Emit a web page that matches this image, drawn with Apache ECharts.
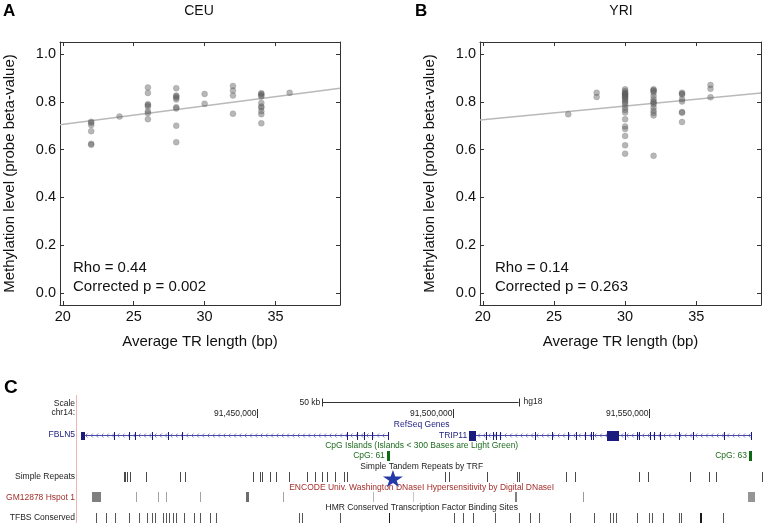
<!DOCTYPE html>
<html><head><meta charset="utf-8">
<script src="https://cdn.jsdelivr.net/npm/echarts@6/dist/echarts.min.js"></script>
<style>html,body{margin:0;padding:0;background:#fff}#c{width:764px;height:523px}</style>
</head><body><div id="c"></div>
<script>
const FONT = '"Liberation Sans", Arial, Helvetica, sans-serif';

// ---------- Panel A (CEU) ----------
const ceuLengths = [22, 24, 26, 28, 30, 32, 34, 36];
const ceuMethylation = [
  [0.716, 0.712, 0.703, 0.677, 0.624, 0.620],
  [0.738],
  [0.860, 0.837, 0.790, 0.786, 0.780, 0.760, 0.752, 0.727],
  [0.857, 0.826, 0.822, 0.817, 0.810, 0.777, 0.772, 0.700, 0.631],
  [0.833, 0.792],
  [0.866, 0.847, 0.826, 0.750],
  [0.836, 0.832, 0.827, 0.822, 0.795, 0.780, 0.775, 0.760, 0.748, 0.710],
  [0.838]
];
const ceuFit = [[19.8, 0.704], [39.55, 0.857]];
const ceuStats = ['Rho = 0.44', 'Corrected p = 0.002'];

// ---------- Panel B (YRI) ----------
const yriLengths = [26, 28, 30, 32, 34, 36];
const yriMethylation = [
  [0.748],
  [0.838, 0.820],
  [0.852, 0.845, 0.838, 0.835, 0.832, 0.828, 0.824, 0.820, 0.817, 0.811, 0.804, 0.797, 0.790, 0.776, 0.766, 0.755, 0.727, 0.697, 0.686, 0.657, 0.618, 0.583],
  [0.852, 0.848, 0.845, 0.838, 0.824, 0.811, 0.800, 0.797, 0.790, 0.776, 0.762, 0.753, 0.743, 0.574],
  [0.838, 0.834, 0.830, 0.811, 0.801, 0.757, 0.754, 0.715],
  [0.870, 0.854, 0.819]
];
const yriFit = [[19.8, 0.724], [39.55, 0.837]];
const yriStats = ['Rho = 0.14', 'Corrected p = 0.263'];

const xTicks = [20, 25, 30, 35];
const yTicks = [0, 0.2, 0.4, 0.6, 0.8, 1.0];

// ---------- Panel C (genome browser, hg18 chr14, bp) ----------
const chromTicks = [91450000, 91500000, 91550000];
const scaleBar = [91466700, 91516700];
const fbln5 = { name: 'FBLN5', start: 91405500, end: 91483600 };
const fbln5Exons = [[91405500, 91406500], [91413800], [91417600], [91419100], [91423500], [91427500], [91431200],
  [91473200], [91475700], [91477400], [91479500], [91483600]];
const trip11 = { name: 'TRIP11', start: 91504100, end: 91575900 };
const trip11Exons = [[91504100, 91505800], [91508500], [91510200], [91511200], [91512100], [91520900], [91525400],
  [91529300], [91531400], [91533700], [91535200], [91535700], [91539400, 91542500], [91543800], [91547000],
  [91547600], [91550400], [91551400], [91552900], [91557800], [91561300], [91569200], [91575900]];
const cpgIslands = [[91483400, 91484200], [91575600, 91576400]];
const cpgNames = ['CpG: 61', 'CpG: 63'];
const simpleRepeats = [91416300, 91416700, 91417100, 91417900, 91422000, 91430700, 91431800, 91449200, 91451000,
  91451500, 91453400, 91455100, 91458300, 91463000, 91465100, 91466800, 91468100, 91470100, 91472300, 91473200,
  91498200, 91499000, 91508800, 91516400, 91517000, 91529000, 91531100, 91547600, 91549700, 91560600, 91565200,
  91567000, 91578800];
const hspotStarts = [91408300, 91419400, 91424900, 91427100, 91435600, 91447400, 91456800, 91479700, 91489900, 91515900, 91533200, 91575200];
const hspotEnds   = [91410500, 91419400, 91424900, 91427100, 91435600, 91448100, 91456800, 91479700, 91489900, 91516500, 91533200, 91577100];
const hspotScores = [600, 400, 400, 400, 400, 700, 400, 300, 200, 600, 450, 480];
const tfbsSites = [91409100, 91411800, 91414000, 91417700, 91420200, 91422300, 91423500, 91424200, 91426200,
  91427100, 91427900, 91428800, 91429600, 91431700, 91434200, 91435800, 91438200, 91439700, 91461000, 91461700,
  91471300, 91483800, 91500300, 91502700, 91505300, 91510800, 91516900, 91519700, 91522000, 91530000, 91536000,
  91540200, 91540800, 91541600, 91547000, 91550100, 91550800, 91553700, 91557700, 91558300, 91563000, 91563300,
  91569000];
const tfbsStrong = [91483800, 91563000, 91563300];
const starSite = [91484700];

// ---------- layout / style ----------
const ROW = { scale: 6.7, coords: 18.5, gene: 39.7, cpg: 60.5, repeats: 81.5, hspot: 101.5, tfbs: 122.5 };
const NAVY = '#1b1b7e', GREEN = '#1f6b1f', RED = '#a3302c';

function flatten(lengths, vals) {
  const out = [];
  lengths.forEach((x, i) => vals[i].forEach(v => out.push([x, v])));
  return out;
}

const frameLine = { show: true, onZero: false, lineStyle: { color: '#333', width: 1 } };
function xAxes(gi) {
  return [
    { gridIndex: gi, type: 'value', min: 19.8, max: 39.55, position: 'bottom', axisLine: frameLine,
      axisTick: { show: true, inside: true, length: 4, customValues: xTicks, lineStyle: { color: '#333' } },
      axisLabel: { customValues: xTicks, fontSize: 14.5, color: '#111', margin: 4, fontFamily: FONT },
      splitLine: { show: false },
      name: 'Average TR length (bp)', nameLocation: 'middle', nameGap: 29,
      nameTextStyle: { fontSize: 15, color: '#111', fontFamily: FONT } },
    { gridIndex: gi, type: 'value', min: 19.8, max: 39.55, position: 'top', axisLine: frameLine,
      axisTick: { show: true, inside: true, length: 4, customValues: xTicks, lineStyle: { color: '#333' } },
      axisLabel: { show: false }, splitLine: { show: false } }
  ];
}
function yAxes(gi) {
  return [
    { gridIndex: gi, type: 'value', min: -0.05, max: 1.05, position: 'left', axisLine: frameLine,
      axisTick: { show: true, inside: true, length: 4, customValues: yTicks, lineStyle: { color: '#333' } },
      axisLabel: { customValues: yTicks, fontSize: 14.5, color: '#111', margin: 4, fontFamily: FONT,
        formatter: v => Number(v).toFixed(1) },
      splitLine: { show: false },
      name: 'Methylation level (probe beta-value)', nameLocation: 'middle', nameGap: 43,
      nameTextStyle: { fontSize: 15, color: '#111', fontFamily: FONT } },
    { gridIndex: gi, type: 'value', min: -0.05, max: 1.05, position: 'right', axisLine: frameLine,
      axisTick: { show: true, inside: true, length: 4, customValues: yTicks, lineStyle: { color: '#333' } },
      axisLabel: { show: false }, splitLine: { show: false } }
  ];
}

const dotStyle = { color: 'rgba(95,95,95,0.45)', borderColor: 'rgba(70,70,70,0.3)', borderWidth: 0.5, opacity: 1 };
const fitStyle = { color: '#b9b9b9', width: 1.5 };

function tickRender(row, h, colorFn) {
  return function (params, api) {
    const p1 = api.coord([api.value(0), row]);
    const p2 = api.coord([api.value(1), row]);
    const w = Math.max(1, Math.round(p2[0] - p1[0]));
    return { type: 'rect', shape: { x: Math.floor(p1[0]), y: Math.round(p1[1] - h / 2), width: w, height: h },
      style: { fill: colorFn(api.value(2), api.value(0)) } };
  };
}

function geneRender(gene, exons, showLabel) {
  return function (params, api) {
    const a = api.coord([gene.start, ROW.gene]);
    const b = api.coord([gene.end, ROW.gene]);
    const y = Math.round(a[1]) + 0.5;
    const ch = [];
    ch.push({ type: 'line', shape: { x1: a[0], y1: y, x2: b[0], y2: y }, style: { stroke: '#4646a8', lineWidth: 1 } });
    for (let x = a[0] + 4; x < b[0] - 2; x += 5.3) {
      ch.push({ type: 'polyline', shape: { points: [[x + 1.6, y - 2], [x - 0.4, y], [x + 1.6, y + 2]] },
        style: { stroke: '#5a5ab8', lineWidth: 0.8, fill: null } });
    }
    exons.forEach(e => {
      const s = api.coord([e[0], ROW.gene])[0];
      const t = api.coord([e.length > 1 ? e[1] : e[0], ROW.gene])[0];
      const w = Math.max(1, Math.round(t - s));
      const h = w > 6 ? 10 : 8;
      ch.push({ type: 'rect', shape: { x: Math.floor(s), y: Math.round(y - h / 2), width: w, height: h }, style: { fill: NAVY } });
    });
    if (showLabel) {
      ch.push({ type: 'text', style: { text: gene.name, x: a[0] - 2, y: y, textAlign: 'right', textVerticalAlign: 'middle',
        fontSize: 8.5, fontFamily: FONT, fill: NAVY } });
    }
    return { type: 'group', children: ch };
  };
}

const series = [
  { type: 'scatter', xAxisIndex: 0, yAxisIndex: 0, data: flatten(ceuLengths, ceuMethylation), symbolSize: 6, itemStyle: dotStyle, silent: true, z: 3 },
  { type: 'line', xAxisIndex: 0, yAxisIndex: 0, data: ceuFit, showSymbol: false, lineStyle: fitStyle, silent: true, z: 2 },
  { type: 'scatter', xAxisIndex: 2, yAxisIndex: 2, data: flatten(yriLengths, yriMethylation), symbolSize: 6, itemStyle: dotStyle, silent: true, z: 3 },
  { type: 'line', xAxisIndex: 2, yAxisIndex: 2, data: yriFit, showSymbol: false, lineStyle: fitStyle, silent: true, z: 2 },
  // scale bar
  { type: 'custom', xAxisIndex: 4, yAxisIndex: 4, silent: true, data: [scaleBar],
    renderItem: (p, api) => {
      const a = api.coord([api.value(0), ROW.scale]), b = api.coord([api.value(1), ROW.scale]);
      const y = Math.round(a[1]) + 0.5;
      return { type: 'group', children: [
        { type: 'line', shape: { x1: a[0], y1: y, x2: b[0], y2: y }, style: { stroke: '#333', lineWidth: 1 } },
        { type: 'line', shape: { x1: Math.round(a[0]) + 0.5, y1: y - 4, x2: Math.round(a[0]) + 0.5, y2: y + 4 }, style: { stroke: '#333', lineWidth: 1 } },
        { type: 'line', shape: { x1: Math.round(b[0]) + 0.5, y1: y - 4, x2: Math.round(b[0]) + 0.5, y2: y + 4 }, style: { stroke: '#333', lineWidth: 1 } },
        { type: 'text', style: { text: ((api.value(1) - api.value(0)) / 1000).toFixed(0) + ' kb', x: a[0] - 2, y: y, textAlign: 'right', textVerticalAlign: 'middle', fontSize: 8.5, fontFamily: FONT, fill: '#222' } },
        { type: 'text', style: { text: 'hg18', x: b[0] + 5, y: y - 0.5, textAlign: 'left', textVerticalAlign: 'middle', fontSize: 8.5, fontFamily: FONT, fill: '#222' } }
      ] };
    } },
  // chromosome coordinate ticks
  { type: 'custom', xAxisIndex: 4, yAxisIndex: 4, silent: true, data: chromTicks.map(v => [v]),
    renderItem: (p, api) => {
      const c = api.coord([api.value(0), ROW.coords]);
      const x = Math.round(c[0]) + 0.5;
      return { type: 'group', children: [
        { type: 'line', shape: { x1: x, y1: c[1] - 4.5, x2: x, y2: c[1] + 4.5 }, style: { stroke: '#333', lineWidth: 1 } },
        { type: 'text', style: { text: api.value(0).toLocaleString('en-US'), x: x - 1, y: c[1] + 0.5, textAlign: 'right', textVerticalAlign: 'middle', fontSize: 8.5, fontFamily: FONT, fill: '#222' } }
      ] };
    } },
  // genes
  { type: 'custom', xAxisIndex: 4, yAxisIndex: 4, silent: true, data: [[fbln5.start, fbln5.end]], renderItem: geneRender(fbln5, fbln5Exons, false) },
  { type: 'custom', xAxisIndex: 4, yAxisIndex: 4, silent: true, data: [[trip11.start, trip11.end]], renderItem: geneRender(trip11, trip11Exons, true) },
  // CpG islands
  { type: 'custom', xAxisIndex: 4, yAxisIndex: 4, silent: true, data: cpgIslands,
    renderItem: (p, api) => {
      const a = api.coord([api.value(0), ROW.cpg]), b = api.coord([api.value(1), ROW.cpg]);
      return { type: 'group', children: [
        { type: 'rect', shape: { x: Math.floor(a[0]), y: Math.round(a[1] - 5), width: Math.max(2, Math.round(b[0] - a[0])), height: 10 }, style: { fill: '#0b6a12' } },
        { type: 'text', style: { text: cpgNames[p.dataIndex], x: a[0] - 3, y: a[1], textAlign: 'right', textVerticalAlign: 'middle', fontSize: 8.5, fontFamily: FONT, fill: GREEN } }
      ] };
    } },
  // simple repeats
  { type: 'custom', xAxisIndex: 4, yAxisIndex: 4, silent: true, data: simpleRepeats.map(v => [v, v, 0]),
    renderItem: tickRender(ROW.repeats, 10, () => '#4a4a4a') },
  // DNaseI hotspots
  { type: 'custom', xAxisIndex: 4, yAxisIndex: 4, silent: true, data: hspotStarts.map((s, i) => [s, hspotEnds[i], hspotScores[i]]),
    renderItem: tickRender(ROW.hspot, 10, (sc) => { const g = Math.round(235 - sc * 0.18); return 'rgb(' + g + ',' + g + ',' + g + ')'; }) },
  // TFBS
  { type: 'custom', xAxisIndex: 4, yAxisIndex: 4, silent: true, data: tfbsSites.map(v => [v, v, tfbsStrong.includes(v) ? 1 : 0]),
    renderItem: tickRender(ROW.tfbs, 10, (s) => s ? '#1a1a1a' : '#555') },
  // star annotation
  { type: 'scatter', xAxisIndex: 4, yAxisIndex: 4, silent: true, data: starSite.map(v => [v, ROW.repeats]), z: 5,
    symbol: 'path://M50,0 L61,35 L98,35 L68,57 L79,91 L50,70 L21,91 L32,57 L2,35 L39,35 Z',
    symbolSize: [20, 17], symbolOffset: [0, 2], itemStyle: { color: '#2538a8', opacity: 1 } }
];

function stx(text, x, y, opt) {
  return { type: 'text', x: x, y: y, silent: true,
    style: Object.assign({ text: text, fontFamily: FONT, fontSize: 8.5, fill: '#222', textAlign: 'left', textVerticalAlign: 'middle' }, opt || {}) };
}

const graphics = [
  stx('A', 3, 11, { fontSize: 17, fontWeight: 'bold', fill: '#000' }),
  stx('CEU', 199, 11, { fontSize: 14, textAlign: 'center', fill: '#111' }),
  stx('B', 415, 11, { fontSize: 17, fontWeight: 'bold', fill: '#000' }),
  stx('YRI', 621, 11, { fontSize: 14, textAlign: 'center', fill: '#111' }),
  stx(ceuStats[0], 73, 268, { fontSize: 15, fill: '#111' }),
  stx(ceuStats[1], 73, 287, { fontSize: 15, fill: '#111' }),
  stx(yriStats[0], 495, 268, { fontSize: 15, fill: '#111' }),
  stx(yriStats[1], 495, 287, { fontSize: 15, fill: '#111' }),
  stx('C', 4, 388, { fontSize: 19, fontWeight: 'bold', fill: '#000' }),
  { type: 'line', silent: true, shape: { x1: 76.5, y1: 395, x2: 76.5, y2: 523 }, style: { stroke: '#f2b3b3', lineWidth: 1 } },
  stx('Scale', 75, 403.5, { textAlign: 'right' }),
  stx('chr14:', 75, 413, { textAlign: 'right' }),
  stx('FBLN5', 75, 435, { textAlign: 'right', fill: NAVY }),
  stx('Simple Repeats', 75, 477, { textAlign: 'right' }),
  stx('GM12878 Hspot 1', 75, 497.5, { textAlign: 'right', fill: RED }),
  stx('TFBS Conserved', 75, 517.5, { textAlign: 'right' }),
  stx('RefSeq Genes', 421.7, 424.5, { textAlign: 'center', fill: NAVY }),
  stx('CpG Islands (Islands < 300 Bases are Light Green)', 421.7, 445.5, { textAlign: 'center', fill: GREEN }),
  stx('Simple Tandem Repeats by TRF', 421.7, 466.5, { textAlign: 'center' }),
  stx('ENCODE Univ. Washington DNaseI Hypersensitivity by Digital DNaseI', 421.7, 487.5, { textAlign: 'center', fill: RED }),
  stx('HMR Conserved Transcription Factor Binding Sites', 421.7, 508, { textAlign: 'center' })
];

const chart = echarts.init(document.getElementById('c'), null, { renderer: 'canvas' });
chart.setOption({
  animation: false,
  backgroundColor: '#fff',
  textStyle: { fontFamily: FONT },
  grid: [
    { left: 60, top: 42, width: 280, height: 263 },
    { left: 480, top: 42, width: 281, height: 263 },
    { left: 80, top: 395, width: 684, height: 128 }
  ],
  xAxis: [...xAxes(0), ...xAxes(1),
    { gridIndex: 2, type: 'value', min: 91405000, max: 91579200, show: false }],
  yAxis: [...yAxes(0), ...yAxes(1),
    { gridIndex: 2, type: 'value', min: 0, max: 128, inverse: true, show: false }],
  series: series,
  graphic: graphics
});
</script></body></html>
